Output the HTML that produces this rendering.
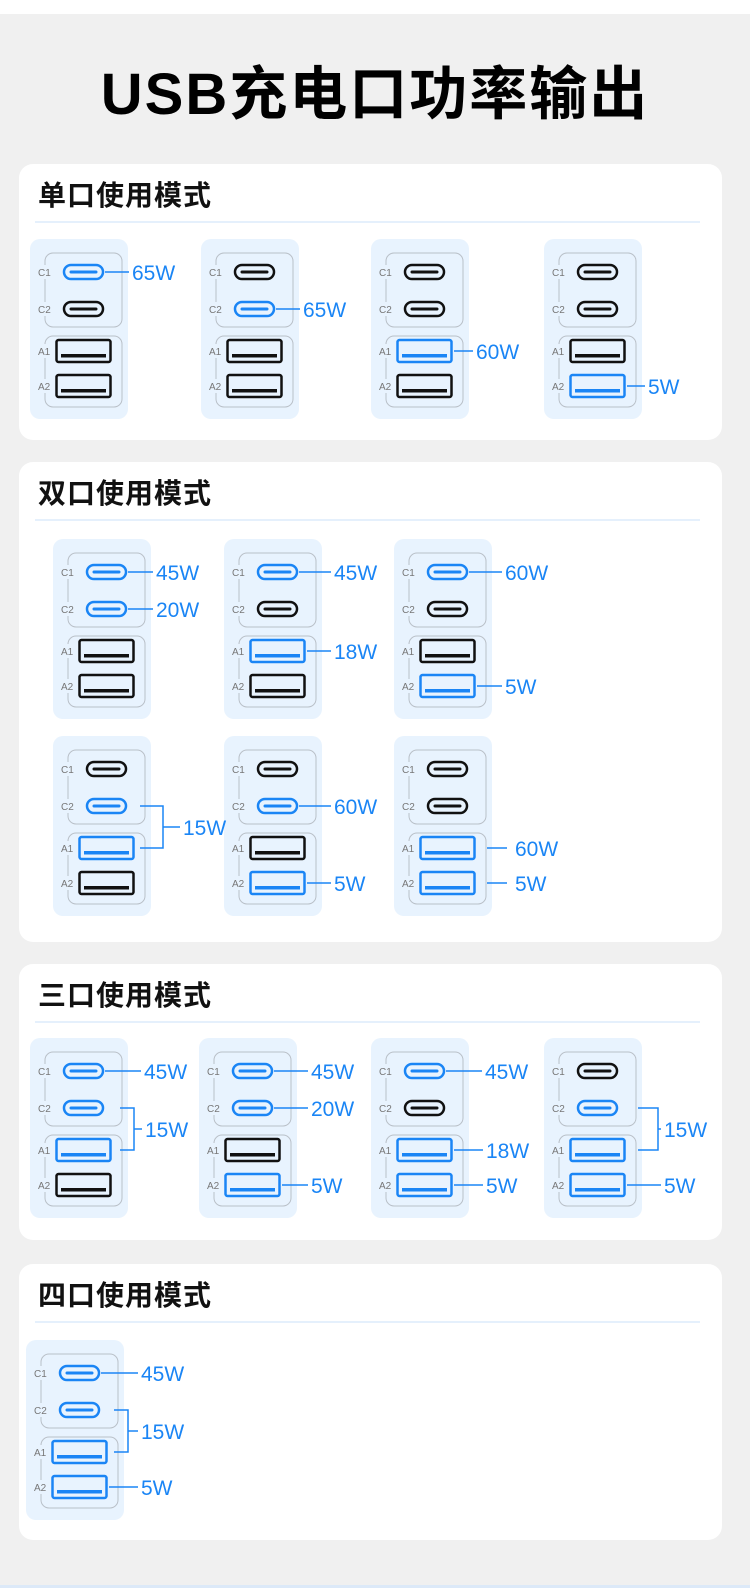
<!DOCTYPE html>
<html><head><meta charset="utf-8"><style>
html,body{margin:0;padding:0;}
body{width:750px;height:1588px;background:#f0f0f0;overflow:hidden;position:relative;font-family:"Liberation Sans","Noto Sans CJK SC",sans-serif;}
#top{position:absolute;left:0;top:0;width:750px;height:14px;background:#fff;}
#title{position:absolute;left:0;top:55px;width:750px;text-align:center;font-size:58px;font-weight:bold;letter-spacing:2px;color:#000;line-height:80px;font-family:"Liberation Sans","Noto Sans CJK SC",sans-serif;}
.card{position:absolute;left:19px;width:703px;background:#fff;border-radius:14px;}
.card h2{position:absolute;left:19px;top:12px;margin:0;font-size:28px;font-weight:bold;color:#111;line-height:40px;letter-spacing:1px;}
.card .div{position:absolute;left:16px;top:57px;width:665px;height:2px;background:#e5f0fc;}
svg{position:absolute;left:0;top:0;}
#bot{position:absolute;left:0;top:1585px;width:750px;height:3px;background:#dce9f8;}
</style></head><body>
<div id="top"></div>
<div id="title">USB充电口功率输出</div>
<div class="card" style="top:164px;height:276px"><h2>单口使用模式</h2><div class="div"></div></div>
<div class="card" style="top:462px;height:480px"><h2>双口使用模式</h2><div class="div"></div></div>
<div class="card" style="top:964px;height:276px"><h2>三口使用模式</h2><div class="div"></div></div>
<div class="card" style="top:1264px;height:276px"><h2>四口使用模式</h2><div class="div"></div></div>
<div id="bot"></div>
<svg id="s" width="750" height="1588" xmlns="http://www.w3.org/2000/svg"></svg>
<script>
var B='#1a85f5',K='#111';
var CY={C1:33,C2:70,A1:112,A2:147};
var R={C1:74,C2:74,A1:82,A2:82};
var mods=[
 [30,239,['C1'],[{p:['C1'],t:'65W',x:102}]],
 [201,239,['C2'],[{p:['C2'],t:'65W',x:102}]],
 [371,239,['A1'],[{p:['A1'],t:'60W',x:105}]],
 [544,239,['A2'],[{p:['A2'],t:'5W',x:104}]],
 [53,539,['C1','C2'],[{p:['C1'],t:'45W',x:103},{p:['C2'],t:'20W',x:103}]],
 [224,539,['C1','A1'],[{p:['C1'],t:'45W',x:110},{p:['A1'],t:'18W',x:110}]],
 [394,539,['C1','A2'],[{p:['C1'],t:'60W',x:111},{p:['A2'],t:'5W',x:111}]],
 [53,736,['C2','A1'],[{p:['C2','A1'],t:'15W',x:130,ls:87,bx:110}]],
 [224,736,['C2','A2'],[{p:['C2'],t:'60W',x:110},{p:['A2'],t:'5W',x:110}]],
 [394,736,['A1','A2'],[{p:['A1'],t:'60W',x:121,ls:93,le:113},{p:['A2'],t:'5W',x:121,ls:93,le:113}]],
 [30,1038,['C1','C2','A1'],[{p:['C1'],t:'45W',x:114},{p:['C2','A1'],t:'15W',x:115,ls:90,bx:104}]],
 [199,1038,['C1','C2','A2'],[{p:['C1'],t:'45W',x:112},{p:['C2'],t:'20W',x:112},{p:['A2'],t:'5W',x:112}]],
 [371,1038,['C1','A1','A2'],[{p:['C1'],t:'45W',x:114},{p:['A1'],t:'18W',x:115},{p:['A2'],t:'5W',x:115}]],
 [544,1038,['C2','A1','A2'],[{p:['C2','A1'],t:'15W',x:120,ls:94,bx:114},{p:['A2'],t:'5W',x:120}]],
 [26,1340,['C1','C2','A1','A2'],[{p:['C1'],t:'45W',x:115},{p:['C2','A1'],t:'15W',x:115,ls:88,bx:102},{p:['A2'],t:'5W',x:115}]]
];
var h='',h2='';
mods.forEach(function(m){
 var ox=m[0],oy=m[1],act=m[2],labs=m[3];
 function c(p){return act.indexOf(p)>=0?B:K;}
 h+='<g transform="translate('+ox+','+oy+')">';
 h+='<rect x="0" y="0" width="98" height="180" rx="10" fill="#e8f3fe"/>';
 h+='<rect x="15" y="14" width="77" height="74" rx="8" fill="none" stroke="#b9c0c8" stroke-width="1"/>';
 h+='<rect x="15" y="97" width="77" height="71" rx="8" fill="none" stroke="#b9c0c8" stroke-width="1"/>';
 ['C1','C2','A1','A2'].forEach(function(p){
  var y=CY[p];
  h+='<rect x="5" y="'+(y-7)+'" width="20" height="14" fill="#e8f3fe"/>';
  h+='<text x="8" y="'+(y+4)+'" font-size="10" fill="#777" font-family="Liberation Sans,sans-serif">'+p+'</text>';
  if(p[0]=='C'){
   h+='<rect x="34" y="'+(y-7)+'" width="39" height="14" rx="7" fill="none" stroke="'+c(p)+'" stroke-width="2.5"/>';
   h+='<line x1="41" x2="66" y1="'+y+'" y2="'+y+'" stroke="'+c(p)+'" stroke-width="3" stroke-linecap="round"/>';
  } else {
   h+='<rect x="26.5" y="'+(y-11)+'" width="54" height="22" rx="2" fill="none" stroke="'+c(p)+'" stroke-width="2.5"/>';
   h+='<rect x="31" y="'+(y+3)+'" width="45" height="3.5" fill="'+c(p)+'"/>';
  }
 });
 h+='</g>';
 h2+='<g transform="translate('+ox+','+oy+')">';
 labs.forEach(function(l){
  var ty;
  if(l.p.length==1){
   var y=CY[l.p[0]];ty=y;
   var ls=l.ls||R[l.p[0]]+1, le=l.le||l.x-3;
   h2+='<line x1="'+ls+'" x2="'+le+'" y1="'+y+'" y2="'+y+'" stroke="'+B+'" stroke-width="1.5"/>';
  } else {
   var y1=CY[l.p[0]],y2=CY[l.p[1]];ty=(y1+y2)/2;
   h2+='<polyline points="'+l.ls+','+y1+' '+l.bx+','+y1+' '+l.bx+','+y2+' '+l.ls+','+y2+'" fill="none" stroke="'+B+'" stroke-width="1.5"/>';
   h2+='<line x1="'+l.bx+'" x2="'+(l.x-3)+'" y1="'+ty+'" y2="'+ty+'" stroke="'+B+'" stroke-width="1.5"/>';
  }
  h2+='<text x="'+l.x+'" y="'+(ty+8)+'" font-size="21" fill="'+B+'" font-family="Liberation Sans,sans-serif">'+l.t+'</text>';
 });
 h2+='</g>';
});
document.getElementById('s').innerHTML=h+h2;
</script>
</body></html>
